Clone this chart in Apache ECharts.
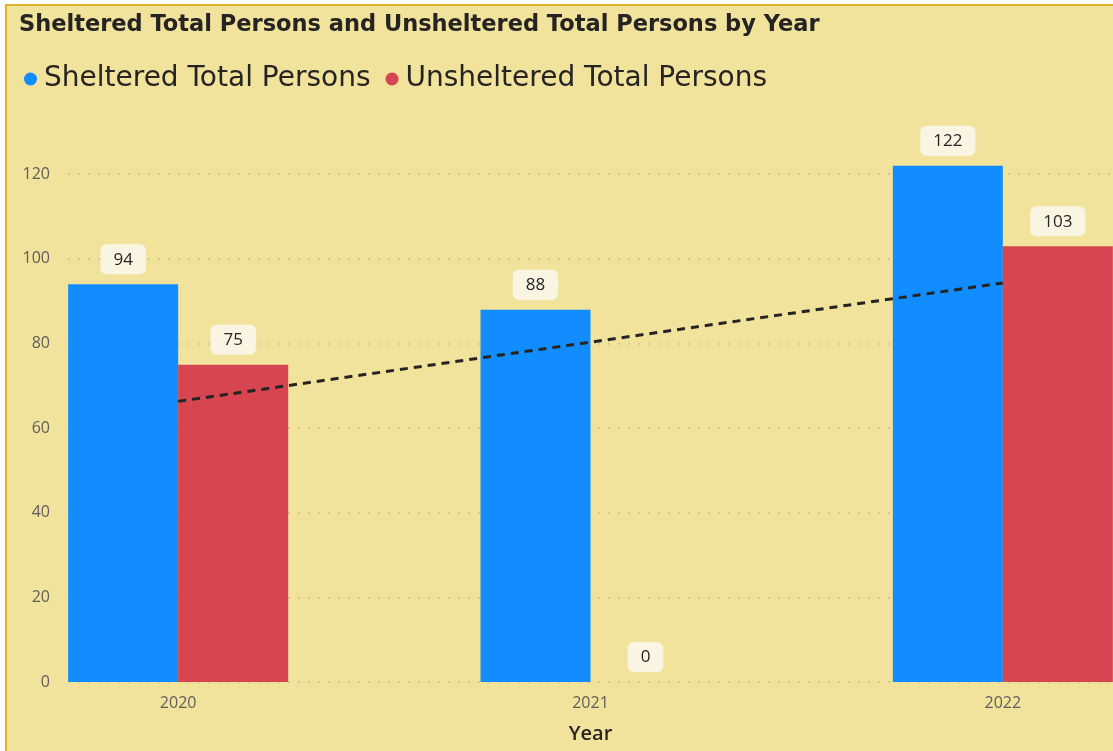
<!DOCTYPE html>
<html>
<head>
<meta charset="utf-8">
<script src="https://cdn.jsdelivr.net/npm/echarts@6/dist/echarts.min.js"></script>
<style>
  html, body { margin: 0; padding: 0; width: 1113px; height: 751px; overflow: hidden; background: #ffffff; position: relative; }
  #frame { position: absolute; left: 5px; top: 4px; width: 1120px; height: 760px; background: #F1E29C; border: 2px solid #DDB42A; }
  #chart { position: absolute; left: -28px; top: 0; width: 1237px; height: 751px; }
</style>
</head>
<body>
<div id="frame"></div>
<div id="chart"></div>
<script>
const years = ['2020', '2021', '2022'];
const sheltered = [94, 88, 122];
const unsheltered = [75, 0, 103];
const trend = [66.33, 80.33, 94.33];

// chart div is shifted 28px left of the window; OFF converts window x to chart x
const OFF = 28;
const chart = echarts.init(document.getElementById('chart'), null, { renderer: 'canvas' });
const labelStyle = {
  show: true, position: 'top', distance: 10,
  fontFamily: 'Open Sans', fontSize: 17, color: '#252423',
  backgroundColor: '#FAF5E3', borderRadius: 6, padding: [7, 13, 6, 13]
};
chart.setOption({
  animation: false,
  backgroundColor: 'transparent',
  title: {
    text: 'Sheltered Total Persons and Unsheltered Total Persons by Year',
    left: 14 + OFF, top: 9,
    textStyle: { fontFamily: 'DejaVu Sans', fontWeight: 'bold', fontSize: 22.5, color: '#252423' }
  },
  legend: {
    data: ['Sheltered Total Persons', 'Unsheltered Total Persons'],
    left: 19 + OFF, top: 60, icon: 'circle', itemWidth: 13, itemHeight: 13, itemGap: 15,
    textStyle: { fontFamily: 'DejaVu Sans', fontSize: 28, color: '#252423', padding: [0, 0, 0, 2] }
  },
  grid: [
    { left: 0, right: 0, top: 132, bottom: 69 },
    { left: 68 + OFF, right: 96, top: 174, bottom: 69 }
  ],
  xAxis: [
    {
      type: 'category', data: years, gridIndex: 0,
      axisLine: { show: false }, axisTick: { show: false },
      axisLabel: { fontFamily: 'Open Sans', fontSize: 16, color: '#605E5C', margin: 13 },
      name: 'Year', nameLocation: 'middle', nameGap: 42,
      nameTextStyle: { fontFamily: 'Open Sans', fontSize: 20, color: '#252423', fontWeight: 600 }
    },
    { type: 'category', data: years, gridIndex: 1, show: false }
  ],
  yAxis: [
    { type: 'value', gridIndex: 0, min: 0, max: 130, show: false, splitLine: { show: false } },
    {
      type: 'value', gridIndex: 1, min: 0, max: 120, interval: 20,
      axisLine: { show: false }, axisTick: { show: false },
      axisLabel: { fontFamily: 'Open Sans', fontSize: 16, color: '#605E5C', margin: 18 },
      splitLine: { show: true, lineStyle: { color: 'rgba(160,160,150,0.4)', width: 2, type: [2, 8] } }
    }
  ],
  series: [
    {
      name: 'Sheltered Total Persons', type: 'bar', data: sheltered,
      xAxisIndex: 0, yAxisIndex: 0, barWidth: 110, barGap: '0%',
      itemStyle: { color: '#118DFF' }, label: labelStyle, z: 2
    },
    {
      name: 'Unsheltered Total Persons', type: 'bar', data: unsheltered,
      xAxisIndex: 0, yAxisIndex: 0, barWidth: 110, barGap: '0%',
      itemStyle: { color: '#D64550' }, label: labelStyle, z: 2
    },
    {
      name: 'Trend', type: 'line', data: trend, xAxisIndex: 0, yAxisIndex: 0,
      showSymbol: false, symbol: 'none', silent: true, z: 5,
      lineStyle: { color: '#252423', width: 3, type: [8, 6] }
    }
  ]
});
</script>
</body>
</html>
